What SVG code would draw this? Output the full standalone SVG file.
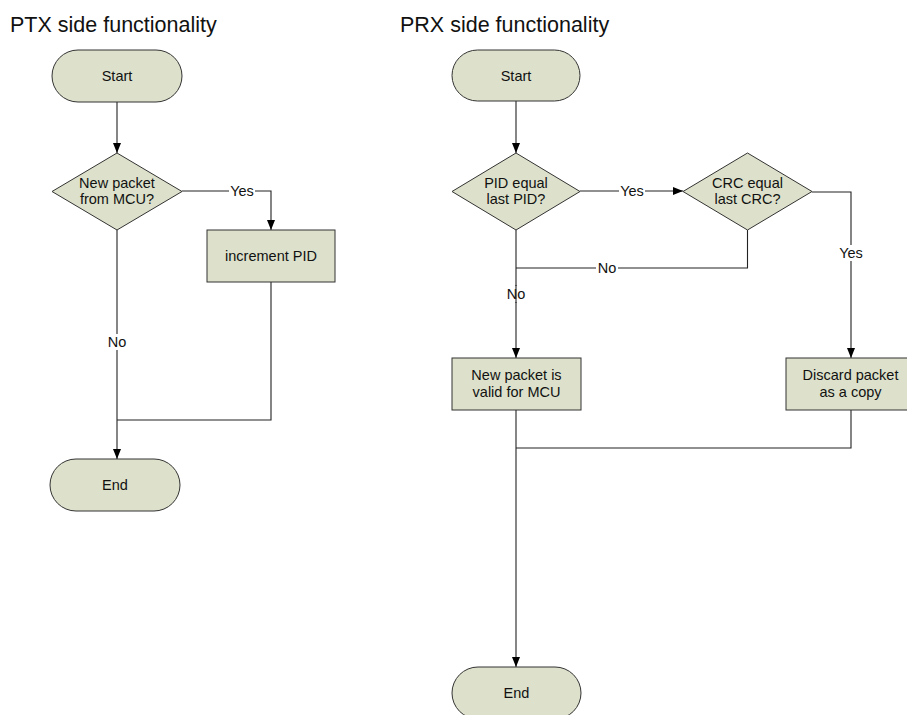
<svg xmlns="http://www.w3.org/2000/svg" width="907" height="715" viewBox="0 0 907 715">
<style>
.shape{fill:#dde1cb;stroke:#333;stroke-width:1}
.t{font-family:"Liberation Sans",Arial,sans-serif;font-size:14.5px;fill:#111;text-anchor:middle}
.title{font-family:"Liberation Sans",Arial,sans-serif;font-size:21.5px;fill:#111}
.c{fill:none;stroke:#222;stroke-width:1.1}
.lbg{fill:#fff}
</style>
<defs>
<marker id="arr" viewBox="0 0 10 8" refX="10" refY="4" markerWidth="10" markerHeight="8" markerUnits="userSpaceOnUse" orient="auto">
<path d="M0,0 L10,4 L0,8 Z" fill="#000"/>
</marker>
</defs>
<rect width="907" height="715" fill="#fff"/>
<text class="title" x="10" y="32">PTX side functionality</text>
<text class="title" x="400" y="32">PRX side functionality</text>

<g id="connectors">
<path class="c" d="M117,102 V153" marker-end="url(#arr)"/>
<path class="c" d="M182,191 H271 V230" marker-end="url(#arr)"/>
<path class="c" d="M117,230 V459" marker-end="url(#arr)"/>
<path class="c" d="M271,282 V420 H117"/>
<path class="c" d="M516,101 V153" marker-end="url(#arr)"/>
<path class="c" d="M580,191 H683" marker-end="url(#arr)"/>
<path class="c" d="M516,230 V358" marker-end="url(#arr)"/>
<path class="c" d="M747.5,230 V268 H516"/>
<path class="c" d="M812,192 H851 V358" marker-end="url(#arr)"/>
<path class="c" d="M516,410 V667" marker-end="url(#arr)"/>
<path class="c" d="M851,410 V448 H516"/>
</g>

<g id="labels">
<rect class="lbg" x="229" y="183" width="26" height="16"/>
<text class="t" x="242" y="196">Yes</text>
<rect class="lbg" x="106" y="334" width="22" height="16"/>
<text class="t" x="117" y="347">No</text>
<rect class="lbg" x="619" y="183" width="26" height="16"/>
<text class="t" x="632" y="196">Yes</text>
<rect class="lbg" x="596" y="260" width="22" height="16"/>
<text class="t" x="607" y="273">No</text>
<rect class="lbg" x="838" y="245" width="26" height="16"/>
<text class="t" x="851" y="258">Yes</text>
<rect class="lbg" x="505" y="286" width="22" height="16"/>
<text class="t" x="516" y="299">No</text>
<path class="c" d="M516,285 V303"/>
</g>

<g id="ptx-start">
<rect class="shape" x="52" y="50" width="130" height="52" rx="26" ry="26"/>
<text class="t" x="117" y="81">Start</text>
</g>
<g id="ptx-decision">
<polygon class="shape" points="117,153 182,191.5 117,230 52,191.5"/>
<text class="t" x="117" y="187.5">New packet</text>
<text class="t" x="117" y="204">from MCU?</text>
</g>
<g id="ptx-increment">
<rect class="shape" x="207" y="230" width="128" height="52"/>
<text class="t" x="271" y="261">increment PID</text>
</g>
<g id="ptx-end">
<rect class="shape" x="50" y="459" width="130" height="52" rx="26" ry="26"/>
<text class="t" x="115" y="490">End</text>
</g>

<g id="prx-start">
<rect class="shape" x="452" y="50" width="128" height="51" rx="25.5" ry="25.5"/>
<text class="t" x="516" y="81">Start</text>
</g>
<g id="prx-pid">
<polygon class="shape" points="516,153 580,191.5 516,230 452,191.5"/>
<text class="t" x="516" y="187.5">PID equal</text>
<text class="t" x="516" y="204">last PID?</text>
</g>
<g id="prx-crc">
<polygon class="shape" points="747.5,153 812,191.5 747.5,230 683,191.5"/>
<text class="t" x="747.5" y="187.5">CRC equal</text>
<text class="t" x="747.5" y="204">last CRC?</text>
</g>
<g id="prx-valid">
<rect class="shape" x="452" y="358" width="129" height="52"/>
<text class="t" x="516.5" y="380">New packet is</text>
<text class="t" x="516.5" y="397">valid for MCU</text>
</g>
<g id="prx-discard">
<rect class="shape" x="786" y="358" width="129" height="52"/>
<text class="t" x="850.5" y="380">Discard packet</text>
<text class="t" x="850.5" y="397">as a copy</text>
</g>
<g id="prx-end">
<rect class="shape" x="452" y="667" width="129" height="52" rx="26" ry="26"/>
<text class="t" x="516.5" y="698">End</text>
</g>
</svg>
